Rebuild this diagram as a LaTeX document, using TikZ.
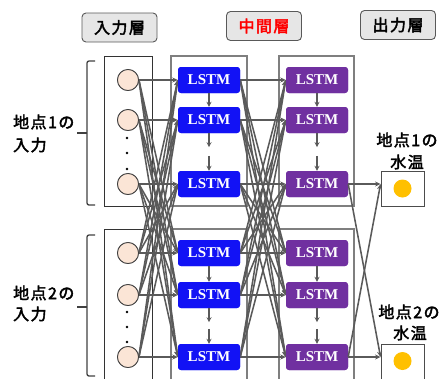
\documentclass[tikz,border=0pt]{standalone}
\usepackage{fontspec}
\setmainfont{Liberation Serif}
\newfontfamily\jp{Noto Sans CJK JP}[FakeBold=2.5, LetterSpace=9]
\usetikzlibrary{arrows.meta}
\definecolor{lblue}{HTML}{1212F5}
\definecolor{lpurple}{HTML}{7030A0}
\definecolor{peach}{HTML}{FBE5D6}
\definecolor{hdrfill}{HTML}{E6E6E6}
\definecolor{lnk}{HTML}{5A5A5A}
\definecolor{gold}{HTML}{FFC000}
\definecolor{grpgray}{HTML}{7F7F7F}
\tikzset{
  lstm/.style={rectangle, rounded corners=3pt, minimum width=62pt, minimum height=26pt, inner sep=0pt, text=white, font=\fontsize{15}{15}\selectfont\bfseries},
  inp/.style={circle, minimum size=21pt, inner sep=0pt, fill=peach, draw=black!75, line width=0.8pt},
  conn/.style={draw=lnk, line width=1.55pt, -{Stealth[length=5.5pt,width=5pt]}},
  varr/.style={draw=lnk, line width=1.5pt, -{Stealth[length=5pt,width=5pt]}},
  hdr/.style={rectangle, rounded corners=4pt, fill=hdrfill, draw=black!65, line width=0.9pt, minimum width=75pt, minimum height=29pt, inner sep=0pt, font=\jp\fontsize{16}{16}\selectfont},
  lab/.style={inner sep=0pt, font=\jp\fontsize{16}{16}\selectfont},
  grp/.style={draw=grpgray, line width=1.9pt},
  ibox/.style={draw=black!80, line width=0.8pt},
  obox/.style={rectangle, draw=black!70, fill=white, line width=0.9pt, minimum width=43pt, inner sep=0pt},
  brace/.style={draw=black!75, line width=1.3pt, rounded corners=2pt},
  dotm/.style={circle, fill=black, minimum size=2.6pt, inner sep=0pt}
}
\begin{document}
\begin{tikzpicture}[x=1pt,y=-1pt]
\useasboundingbox (0,0) rectangle (443,378);
% headers
\node[hdr] (h1) at (119.5,27.5) {入力層};
\node[hdr, text=red] (h2) at (264,26) {中間層};
\node[hdr] (h3) at (398,25) {出力層};
% group boxes
\draw[ibox] (104,56) rectangle (152,206);
\draw[ibox] (104,229) rectangle (152,390);
\draw[grp] (171,56) rectangle (247,206);
\draw[grp] (171,229) rectangle (247,390);
\draw[grp] (279,56) rectangle (354,206);
\draw[grp] (279,229) rectangle (354,390);
% nodes
\foreach \k/\y in {1/80,2/120,3/184,4/253,5/295,6/357}{
  \node[inp] (i\k) at (128,\y) {};
  \node[lstm, fill=lblue] (b\k) at (209,\y) {LSTM};
  \node[lstm, fill=lpurple] (p\k) at (317,\y) {LSTM};
}
% connections
\foreach \s in {1,2,3}{
  \foreach \t in {4,5,6}{
    \draw[conn] (i\s.east) -- (b\t.west);
    \draw[conn] (i\t.east) -- (b\s.west);
    \draw[conn] (b\s.east) -- (p\t.west);
    \draw[conn] (b\t.east) -- (p\s.west);
  }
}
\foreach \k in {1,...,6}{
  \draw[conn] (i\k.east) -- (b\k.west);
  \draw[conn] (b\k.east) -- (p\k.west);
}
% redraw nodes on top
\foreach \k in {1,...,6}{
  \node[inp] at (i\k) {};
  \node[lstm, fill=lblue] at (b\k) {LSTM};
  \node[lstm, fill=lpurple] at (p\k) {LSTM};
}
% vertical arrows
\foreach \c in {b,p}{
  \draw[varr] (\c1.south) -- (\c2.north);
  \draw[varr] (\c4.south) -- (\c5.north);
  \path (\c2.south) ++(0,14) coordinate (\c2x);
  \path (\c3.north) ++(0,-15) coordinate (\c3x);
  \path (\c5.south) ++(0,14) coordinate (\c5x);
  \path (\c6.north) ++(0,-15) coordinate (\c6x);
  \draw[varr] (\c2.south) -- (\c2x);
  \draw[varr] (\c3x) -- (\c3.north);
  \draw[varr] (\c5.south) -- (\c5x);
  \draw[varr] (\c6x) -- (\c6.north);
}
% dots
\foreach \y [count=\n] in {138,153,169,312,327,342}{
  \node[dotm] (d\n) at (127,\y) {};
}
% outputs
\node[obox, minimum height=35pt] (o1) at (402.5,188.5) {};
\node[circle, fill=gold, minimum size=18pt, inner sep=0pt] (g1) at (o1) {};
\node[obox, minimum height=42pt] (o2) at (402.5,365) {};
\node[circle, fill=gold, minimum size=18pt, inner sep=0pt] (g2) at (402.5,361) {};
\coordinate (o1in) at (o1.west |- p3.east);
\coordinate (o2in) at (o2.west |- p6.east);
\draw[conn] (p3.east) -- (o1in);
\draw[conn] (p3.east) -- (o2in);
\draw[conn] (p6.east) -- (o2in);
\draw[conn] (p6.east) -- (o1in);
% output labels
\node[lab] (ol1a) at (407,140) {地点1の};
\node[lab] (ol1b) at (407,162) {水温};
\node[lab] (ol2a) at (409,312) {地点2の};
\node[lab] (ol2b) at (410,333) {水温};
% left labels
\node[lab, anchor=west] (ll1a) at (13,122) {地点1の};
\node[lab, anchor=west] (ll1b) at (13,145) {入力};
\node[lab, anchor=west] (ll2a) at (13,293) {地点2の};
\node[lab, anchor=west] (ll2b) at (13,314) {入力};
% braces
\draw[brace] (95,61) -- (87,61) -- (87,205) -- (95,205);
\draw[brace] (87,133) -- (77,133);
\draw[brace] (95,235) -- (87,235) -- (87,376) -- (95,376);
\draw[brace] (87,307) -- (77,307);
\end{tikzpicture}
\end{document}
